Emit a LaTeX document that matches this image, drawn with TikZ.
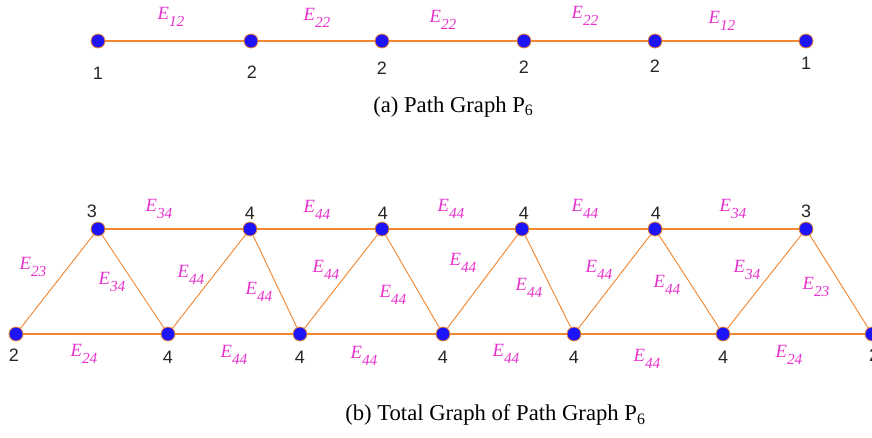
\documentclass[tikz,border=0pt]{standalone}
\usepackage{fontspec}
\setmainfont{Liberation Serif}
\newfontfamily\numfont{Liberation Sans}
\usepackage{xcolor}
\usetikzlibrary{positioning}
\definecolor{edgeorange}{RGB}{242,135,50}
\definecolor{vertexblue}{RGB}{30,20,250}
\definecolor{labelmagenta}{RGB}{230,50,205}
\newcommand{\elab}[1]{{\itshape E\raisebox{-5pt}{\fontsize{11.5}{13}\selectfont #1}}}

\begin{document}
\begin{tikzpicture}[
  x=0.75pt, y=-0.75pt,
  vertex/.style={circle, inner sep=0pt, minimum size=10.5pt, fill=vertexblue,
    draw=edgeorange, line width=0.6pt},
  degree/.style={font=\numfont\fontsize{13.5}{15}\selectfont, text=black!85, inner sep=0pt},
  edgelabel/.style={font=\fontsize{14}{16}\selectfont, text=labelmagenta, inner sep=0pt},
  caption/.style={font=\fontsize{17}{20}\selectfont, inner sep=0pt, anchor=west},
  hedge/.style={draw=edgeorange, line width=1.1pt},
  dedge/.style={draw=edgeorange, line width=0.7pt},
]
  \useasboundingbox (0,0) rectangle (872,437);

  % (a) path graph: vertices
  \node[vertex] (a1) at (98,41) {};
  \node[vertex] (a2) at (251,41) {};
  \node[vertex] (a3) at (382,41) {};
  \node[vertex] (a4) at (524,41) {};
  \node[vertex] (a5) at (655,41) {};
  \node[vertex] (a6) at (806,41) {};

  % (a) edges
  \draw[hedge] (a1) -- (a2);
  \draw[hedge] (a2) -- (a3);
  \draw[hedge] (a3) -- (a4);
  \draw[hedge] (a4) -- (a5);
  \draw[hedge] (a5) -- (a6);

  % (a) degrees and edge labels
  \node[degree] (da1) at (98,73) {1};
  \node[degree] (da2) at (252,72) {2};
  \node[degree] (da3) at (382,68) {2};
  \node[degree] (da4) at (524,67) {2};
  \node[degree] (da5) at (655,66) {2};
  \node[degree] (da6) at (806,63) {1};
  \node[edgelabel] (ea1) at (171,17) {\elab{12}};
  \node[edgelabel] (ea2) at (317,18) {\elab{22}};
  \node[edgelabel] (ea3) at (443,20) {\elab{22}};
  \node[edgelabel] (ea4) at (585,16) {\elab{22}};
  \node[edgelabel] (ea5) at (722,21) {\elab{12}};

  \node[caption] (capa) at (373,107) {(a) Path Graph P\textsubscript{6}};

  % (b) total graph: top row
  \node[vertex] (t1) at (98,229) {};
  \node[vertex] (t2) at (250,229) {};
  \node[vertex] (t3) at (382,229) {};
  \node[vertex] (t4) at (522,229) {};
  \node[vertex] (t5) at (655,229) {};
  \node[vertex] (t6) at (806,229) {};
  % bottom row
  \node[vertex] (b1) at (16,334) {};
  \node[vertex] (b2) at (168,334) {};
  \node[vertex] (b3) at (300,334) {};
  \node[vertex] (b4) at (443,334) {};
  \node[vertex] (b5) at (574,334) {};
  \node[vertex] (b6) at (723,334) {};
  \node[vertex] (b7) at (872,334) {};

  % (b) edges
  \draw[hedge] (t1) -- (t2);
  \draw[hedge] (t2) -- (t3);
  \draw[hedge] (t3) -- (t4);
  \draw[hedge] (t4) -- (t5);
  \draw[hedge] (t5) -- (t6);
  \draw[hedge] (b1) -- (b2);
  \draw[hedge] (b2) -- (b3);
  \draw[hedge] (b3) -- (b4);
  \draw[hedge] (b4) -- (b5);
  \draw[hedge] (b5) -- (b6);
  \draw[hedge] (b6) -- (b7);
  \draw[dedge] (b1) -- (t1);
  \draw[dedge] (t1) -- (b2);
  \draw[dedge] (b2) -- (t2);
  \draw[dedge] (t2) -- (b3);
  \draw[dedge] (b3) -- (t3);
  \draw[dedge] (t3) -- (b4);
  \draw[dedge] (b4) -- (t4);
  \draw[dedge] (t4) -- (b5);
  \draw[dedge] (b5) -- (t5);
  \draw[dedge] (t5) -- (b6);
  \draw[dedge] (b6) -- (t6);
  \draw[dedge] (t6) -- (b7);

  % (b) degrees
  \node[degree] (dt1) at (92,211) {3};
  \node[degree] (dt2) at (250,213) {4};
  \node[degree] (dt3) at (383,213) {4};
  \node[degree] (dt4) at (524,213) {4};
  \node[degree] (dt5) at (656,213) {4};
  \node[degree] (dt6) at (806,211) {3};
  \node[degree] (db1) at (14,355) {2};
  \node[degree] (db2) at (168,357) {4};
  \node[degree] (db3) at (300,357) {4};
  \node[degree] (db4) at (443,357) {4};
  \node[degree] (db5) at (574,357) {4};
  \node[degree] (db6) at (723,357) {4};
  \node[degree] (db7) at (874,355) {2};

  % (b) edge labels
  \node[edgelabel] (et1) at (159,209) {\elab{34}};
  \node[edgelabel] (et2) at (317,210) {\elab{44}};
  \node[edgelabel] (et3) at (451,209) {\elab{44}};
  \node[edgelabel] (et4) at (585,209) {\elab{44}};
  \node[edgelabel] (et5) at (733,209) {\elab{34}};
  \node[edgelabel] (ed1) at (33,267) {\elab{23}};
  \node[edgelabel] (ed2) at (112,282) {\elab{34}};
  \node[edgelabel] (ed3) at (191,275) {\elab{44}};
  \node[edgelabel] (ed4) at (259,292) {\elab{44}};
  \node[edgelabel] (ed5) at (326,270) {\elab{44}};
  \node[edgelabel] (ed6) at (393,295) {\elab{44}};
  \node[edgelabel] (ed7) at (463,263) {\elab{44}};
  \node[edgelabel] (ed8) at (529,288) {\elab{44}};
  \node[edgelabel] (ed9) at (599,270) {\elab{44}};
  \node[edgelabel] (ed10) at (667,285) {\elab{44}};
  \node[edgelabel] (ed11) at (747,270) {\elab{34}};
  \node[edgelabel] (ed12) at (816,287) {\elab{23}};
  \node[edgelabel] (eb1) at (84,354) {\elab{24}};
  \node[edgelabel] (eb2) at (234,355) {\elab{44}};
  \node[edgelabel] (eb3) at (364,356) {\elab{44}};
  \node[edgelabel] (eb4) at (506,354) {\elab{44}};
  \node[edgelabel] (eb5) at (647,359) {\elab{44}};
  \node[edgelabel] (eb6) at (789,355) {\elab{24}};

  \node[caption] (capb) at (345,415) {(b) Total Graph of Path Graph P\textsubscript{6}};
\end{tikzpicture}
\end{document}
